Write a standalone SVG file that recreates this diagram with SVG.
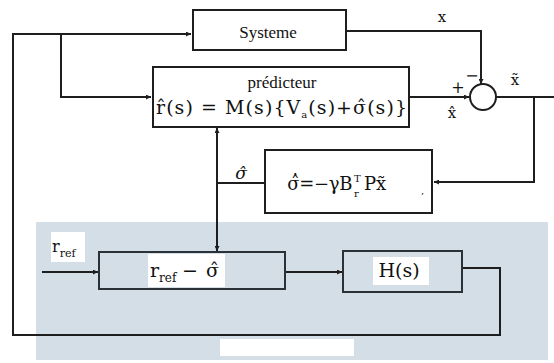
<svg xmlns="http://www.w3.org/2000/svg" width="554" height="363" viewBox="0 0 554 363">
<style>
.box{fill:#fff;stroke:#1e1e1e;stroke-width:2}
.boxs{fill:none;stroke:#2a3238;stroke-width:2}
.ln{fill:none;stroke:#1e1e1e;stroke-width:2}
.wbg{fill:#fff}
.m{font-family:'DejaVu Serif','Liberation Serif',serif}
.w{font-family:'Liberation Serif','Times New Roman',serif}
</style>
<defs>
<marker id="ar" viewBox="0 0 8 8" refX="8" refY="4" markerWidth="5" markerHeight="5" orient="auto" markerUnits="userSpaceOnUse">
<path d="M0,0 L8,4 L0,8 z" fill="#1e1e1e"/>
</marker>
</defs>
<rect width="554" height="363" fill="#fff"/>
<rect id="zone" x="36" y="222" width="512" height="138" fill="#d3dee6"/>
<rect x="220" y="339" width="134" height="17" fill="#fff"/>

<g id="connectors">
<path class="ln" d="M462,268 H500 V335 H13 V34 H191" marker-end="url(#ar)"/>
<path class="ln" d="M61,34 V97 H151" marker-end="url(#ar)"/>
<path class="ln" d="M346,31 H481 V84" marker-end="url(#ar)"/>
<path class="ln" d="M409,97 H469" marker-end="url(#ar)"/>
<path class="ln" d="M496,97 H554"/>
<path class="ln" d="M534,97 V182 H434" marker-end="url(#ar)"/>
<path class="ln" d="M265,183 H217"/>
<path class="ln" d="M217,183 V128" marker-end="url(#ar)"/>
<path class="ln" d="M217,183 V251" marker-end="url(#ar)"/>
<path class="ln" d="M42,272 H98" marker-end="url(#ar)"/>
<path class="ln" d="M285,272 H342" marker-end="url(#ar)"/>
</g>

<g fill="#111">
<g id="systeme">
<rect class="box" x="193" y="10" width="153" height="40"/>
<text class="w" x="268" y="38" font-size="17" text-anchor="middle">Systeme</text>
</g>

<g id="predicteur">
<rect class="box" x="153" y="67" width="256" height="60"/>
<text class="w" x="282" y="88" font-size="17" text-anchor="middle">prédicteur</text>
<text class="m" x="156" y="114" font-size="19" textLength="251" lengthAdjust="spacing">r̂(s) = M(s){V<tspan font-size="10" dy="4">a</tspan><tspan dy="-4">(s)+σ̂(s)}</tspan></text>
</g>

<g id="sommateur">
<circle cx="483" cy="97" r="13" fill="#fff" stroke="#1e1e1e" stroke-width="2"/>
<text class="m" x="458" y="93" font-size="16" text-anchor="middle">+</text>
<text class="m" x="472" y="81" font-size="16" text-anchor="middle">−</text>
<text class="m" x="442" y="22" font-size="15" text-anchor="middle">x</text>
<text class="m" x="452" y="118" font-size="15" text-anchor="middle">x̂</text>
<text class="m" x="515" y="85" font-size="15" text-anchor="middle">x̃</text>
</g>

<g id="loi">
<rect class="box" x="265" y="150" width="167" height="63"/>
<text class="m" x="287" y="190" font-size="18"><tspan textLength="65" lengthAdjust="spacing">σ̂̇=−γB</tspan><tspan x="354" y="182" font-size="10">T</tspan><tspan x="354" y="197" font-size="10">r</tspan><tspan x="364" y="190">Px̃</tspan></text>
<text class="m" x="421" y="194" font-size="10">,</text>
</g>

<g id="sigma-label">
<text class="m" x="241" y="179" font-size="17" font-style="italic" text-anchor="middle">σ̂</text>
</g>

<g id="rref">
<rect class="wbg" x="51" y="232" width="34" height="30"/>
<text class="m" x="52" y="252" font-size="16">r<tspan font-size="11" dy="5">ref</tspan></text>
</g>

<g id="difference">
<rect class="boxs" x="99" y="252" width="186" height="37"/>
<rect class="wbg" x="148" y="254" width="77" height="33"/>
<text class="m" x="150" y="277" font-size="19">r<tspan font-size="12" dy="5">ref</tspan><tspan x="182" dy="-5">−</tspan><tspan x="206">σ̂</tspan></text>
</g>

<g id="H">
<rect class="boxs" x="343" y="251" width="119" height="41"/>
<rect class="wbg" x="373" y="257" width="56" height="28"/>
<text class="m" x="399" y="277" font-size="19" text-anchor="middle">H(s)</text>
</g>
</g>
</svg>
